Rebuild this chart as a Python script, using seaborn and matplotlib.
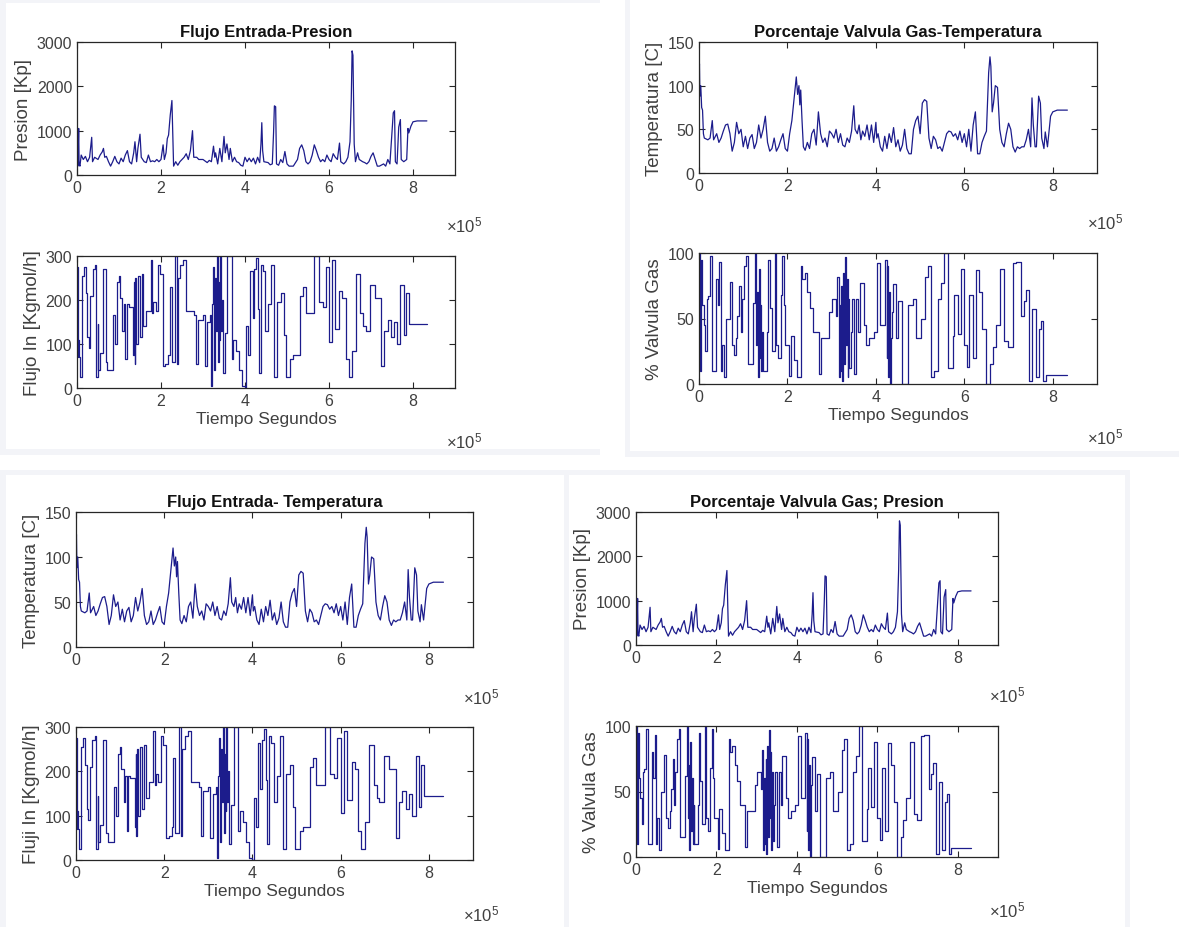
import numpy as np
import pandas as pd
import seaborn as sns
import matplotlib.pyplot as plt
from matplotlib.patches import Rectangle

# tiempo en unidades de 1e5 s

# presion [Kp]
t_pres = [0.00, 0.005, 0.01, 0.02, 0.04, 0.05, 0.07, 0.10, 0.15, 0.20, 0.25, 0.30, 0.35, 0.37, 0.42,
          0.50, 0.55, 0.60, 0.63, 0.66, 0.70, 0.75, 0.80, 0.85, 0.90, 0.95, 1.00, 1.05, 1.10, 1.15,
          1.20, 1.25, 1.30, 1.35, 1.38, 1.42, 1.45, 1.50, 1.53, 1.60, 1.65, 1.70, 1.75, 1.80, 1.85,
          1.90, 1.95, 2.00, 2.05, 2.08, 2.12, 2.15, 2.18, 2.22, 2.26, 2.28, 2.30, 2.35, 2.40, 2.45,
          2.50, 2.55, 2.60, 2.65, 2.70, 2.75, 2.78, 2.85, 2.90, 3.00, 3.10, 3.15, 3.20, 3.25, 3.28,
          3.30, 3.35, 3.40, 3.45, 3.50, 3.53, 3.57, 3.62, 3.65, 3.70, 3.75, 3.80, 3.85, 3.90, 3.95,
          4.00, 4.05, 4.10, 4.15, 4.20, 4.25, 4.30, 4.35, 4.38, 4.40, 4.42, 4.45, 4.55, 4.60, 4.65,
          4.68, 4.70, 4.73, 4.75, 4.80, 4.85, 4.90, 4.95, 5.00, 5.05, 5.15, 5.25, 5.30, 5.35, 5.40,
          5.45, 5.50, 5.55, 5.60, 5.65, 5.70, 5.75, 5.80, 5.85, 5.90, 5.95, 6.00, 6.05, 6.10, 6.15,
          6.20, 6.25, 6.28, 6.35, 6.40, 6.45, 6.50, 6.53, 6.55, 6.57, 6.60, 6.63, 6.68, 6.72, 6.80,
          6.85, 6.90, 6.95, 7.00, 7.05, 7.10, 7.15, 7.20, 7.30, 7.35, 7.40, 7.45, 7.50, 7.53, 7.56,
          7.58, 7.62, 7.66, 7.70, 7.72, 7.78, 7.85, 7.88, 7.90, 7.95, 8.00, 8.10, 8.33]
presion = [300, 2000, 400, 200, 1050, 250, 200, 450, 350, 420, 300, 400, 850, 300, 400,
           350, 450, 520, 600, 400, 420, 300, 200, 300, 420, 300, 250, 380, 300, 450,
           550, 300, 250, 500, 750, 300, 600, 920, 400, 300, 280, 450, 300, 320, 300,
           350, 300, 350, 680, 350, 500, 820, 900, 1350, 1680, 900, 200, 300, 220, 300,
           350, 400, 480, 350, 550, 1000, 400, 400, 350, 350, 280, 330, 300, 650, 400,
           500, 250, 600, 300, 870, 500, 700, 350, 600, 300, 400, 300, 280, 220, 200,
           400, 300, 380, 300, 380, 250, 400, 280, 700, 1180, 550, 300, 280, 230, 250,
           950, 1560, 1540, 250, 220, 350, 280, 530, 250, 200, 200, 350, 600, 680, 550,
           300, 250, 300, 450, 680, 550, 400, 300, 350, 300, 450, 350, 300, 480, 400,
           350, 720, 300, 250, 300, 400, 750, 1700, 2800, 2700, 700, 300, 500, 350, 300,
           280, 250, 300, 420, 500, 350, 200, 200, 250, 200, 350, 250, 950, 1400, 1450,
           300, 250, 1080, 1250, 350, 300, 350, 1050, 950, 1100, 1200, 1220, 1220]

# temperatura [C]
t_temp = [0.00, 0.01, 0.02, 0.04, 0.06, 0.08, 0.10, 0.12, 0.20, 0.25, 0.30, 0.33, 0.40, 0.45, 0.50,
          0.55, 0.60, 0.65, 0.70, 0.75, 0.80, 0.85, 0.90, 0.95, 1.00, 1.05, 1.10, 1.15, 1.20, 1.25,
          1.30, 1.35, 1.40, 1.45, 1.50, 1.55, 1.60, 1.65, 1.70, 1.75, 1.80, 1.85, 1.90, 1.95, 2.00,
          2.05, 2.10, 2.15, 2.20, 2.23, 2.26, 2.28, 2.30, 2.33, 2.36, 2.40, 2.45, 2.50, 2.55, 2.60,
          2.65, 2.70, 2.75, 2.80, 2.85, 2.90, 2.95, 3.00, 3.05, 3.10, 3.15, 3.20, 3.25, 3.30, 3.35,
          3.40, 3.45, 3.50, 3.53, 3.58, 3.62, 3.66, 3.70, 3.75, 3.80, 3.85, 3.90, 3.95, 4.00, 4.02,
          4.05, 4.10, 4.15, 4.20, 4.25, 4.30, 4.35, 4.40, 4.45, 4.50, 4.55, 4.60, 4.65, 4.70, 4.75,
          4.80, 4.85, 4.90, 4.95, 5.00, 5.05, 5.10, 5.15, 5.20, 5.25, 5.30, 5.35, 5.40, 5.45, 5.50,
          5.55, 5.60, 5.65, 5.70, 5.75, 5.80, 5.85, 5.90, 5.95, 6.00, 6.05, 6.10, 6.15, 6.20, 6.25,
          6.28, 6.30, 6.35, 6.40, 6.45, 6.50, 6.55, 6.58, 6.60, 6.63, 6.66, 6.70, 6.75, 6.80, 6.85,
          6.90, 6.95, 7.00, 7.05, 7.10, 7.15, 7.20, 7.25, 7.30, 7.35, 7.40, 7.45, 7.50, 7.53, 7.56,
          7.60, 7.63, 7.68, 7.72, 7.75, 7.80, 7.83, 7.88, 7.92, 7.95, 8.00, 8.10, 8.33]
temperatura = [105, 125, 88, 100, 75, 72, 45, 40, 38, 40, 60, 38, 45, 35, 40,
               48, 55, 56, 45, 25, 35, 58, 45, 50, 30, 42, 28, 40, 44, 28,
               35, 55, 40, 50, 65, 35, 25, 28, 40, 25, 30, 38, 45, 28, 25,
               45, 60, 85, 110, 90, 100, 78, 95, 60, 30, 26, 35, 28, 45, 50,
               32, 70, 45, 35, 40, 30, 48, 45, 40, 50, 35, 45, 32, 30, 40,
               35, 48, 77, 50, 45, 55, 38, 48, 42, 55, 38, 55, 35, 58, 40,
               45, 30, 25, 42, 28, 45, 35, 52, 30, 38, 25, 32, 50, 28, 22,
               22, 50, 60, 65, 45, 80, 84, 82, 40, 28, 42, 38, 28, 30, 25,
               35, 45, 48, 47, 42, 45, 38, 48, 35, 45, 30, 50, 25, 55, 70,
               40, 22, 22, 35, 42, 48, 115, 133, 122, 70, 80, 100, 98, 50, 35,
               30, 45, 57, 50, 30, 24, 30, 28, 30, 30, 38, 50, 30, 86, 55,
               30, 30, 88, 80, 40, 28, 47, 30, 50, 65, 70, 72, 72]

# flujo de entrada [Kgmol/h] (escalones)
t_flujo = [0.00, 0.02, 0.03, 0.05, 0.07, 0.12, 0.17, 0.21, 0.24, 0.28, 0.32, 0.37, 0.42, 0.46, 0.49,
           0.51, 0.55, 0.62, 0.69, 0.72, 0.79, 0.86, 0.90, 0.95, 1.00, 1.03, 1.08, 1.12, 1.15, 1.18,
           1.23, 1.33, 1.35, 1.37, 1.39, 1.41, 1.45, 1.50, 1.54, 1.58, 1.65, 1.75, 1.78, 1.82, 1.87,
           1.93, 1.98, 2.04, 2.10, 2.17, 2.21, 2.25, 2.34, 2.37, 2.41, 2.46, 2.53, 2.60, 2.79, 2.84,
           2.88, 3.00, 3.04, 3.10, 3.17, 3.19, 3.22, 3.25, 3.27, 3.29, 3.31, 3.33, 3.35, 3.37, 3.39,
           3.41, 3.43, 3.45, 3.47, 3.52, 3.58, 3.68, 3.72, 3.78, 3.85, 3.93, 4.00, 4.03, 4.07, 4.13,
           4.18, 4.22, 4.27, 4.30, 4.33, 4.37, 4.43, 4.48, 4.55, 4.62, 4.70, 4.75, 4.85, 4.93, 4.97,
           5.07, 5.15, 5.30, 5.38, 5.45, 5.65, 5.75, 5.85, 5.92, 6.00, 6.08, 6.15, 6.25, 6.32, 6.40,
           6.47, 6.55, 6.65, 6.75, 6.82, 6.88, 6.98, 7.10, 7.25, 7.32, 7.40, 7.48, 7.55, 7.62, 7.70,
           7.78, 7.83, 7.90, 8.33]
flujo = [275, 70, 110, 70, 25, 255, 275, 215, 115, 90, 210, 270, 280, 25, 145,
         40, 80, 270, 60, 40, 40, 165, 100, 240, 255, 205, 130, 190, 65, 190,
         185, 75, 240, 55, 250, 100, 255, 115, 260, 140, 175, 290, 170, 195, 175,
         280, 260, 50, 55, 75, 230, 60, 300, 55, 250, 280, 290, 175, 165, 55,
         155, 165, 50, 150, 165, 5, 190, 275, 40, 250, 130, 300, 60, 240, 110,
         300, 130, 200, 35, 125, 300, 65, 110, 85, 40, 5, 0, 140, 75, 265,
         160, 270, 295, 180, 35, 280, 265, 130, 190, 280, 25, 195, 215, 120, 25,
         65, 75, 210, 230, 170, 300, 195, 185, 275, 105, 290, 135, 220, 205, 65,
         25, 85, 260, 170, 140, 130, 235, 205, 50, 130, 155, 115, 150, 100, 235,
         120, 215, 145, 145]

# porcentaje valvula gas (escalones)
t_valv = [0.00, 0.02, 0.03, 0.05, 0.07, 0.09, 0.11, 0.14, 0.17, 0.20, 0.25, 0.29, 0.32, 0.39, 0.42,
          0.46, 0.49, 0.53, 0.56, 0.62, 0.69, 0.74, 0.80, 0.84, 0.87, 0.91, 0.95, 0.98, 1.02, 1.06,
          1.10, 1.15, 1.22, 1.26, 1.29, 1.31, 1.33, 1.35, 1.37, 1.39, 1.41, 1.43, 1.45, 1.53, 1.56,
          1.60, 1.64, 1.71, 1.74, 1.78, 1.85, 1.88, 1.92, 1.95, 2.03, 2.07, 2.15, 2.22, 2.30, 2.34,
          2.39, 2.45, 2.50, 2.58, 2.72, 2.76, 2.85, 2.95, 3.00, 3.10, 3.13, 3.16, 3.18, 3.20, 3.22,
          3.24, 3.26, 3.28, 3.30, 3.32, 3.34, 3.36, 3.38, 3.40, 3.43, 3.46, 3.50, 3.55, 3.60, 3.64,
          3.72, 3.78, 3.85, 3.96, 4.03, 4.10, 4.20, 4.24, 4.26, 4.28, 4.30, 4.32, 4.34, 4.36, 4.38,
          4.45, 4.50, 4.58, 4.63, 4.72, 4.83, 4.90, 5.02, 5.12, 5.17, 5.25, 5.32, 5.40, 5.47, 5.55,
          5.62, 5.74, 5.77, 5.85, 5.92, 6.00, 6.07, 6.11, 6.19, 6.26, 6.34, 6.41, 6.49, 6.58, 6.64,
          6.71, 6.81, 6.90, 6.98, 7.09, 7.17, 7.28, 7.34, 7.39, 7.47, 7.53, 7.62, 7.68, 7.73, 7.78,
          7.84, 8.33]
valvula = [100, 65, 10, 95, 60, 60, 45, 25, 65, 67, 98, 10, 10, 80, 60,
           93, 10, 30, 5, 50, 78, 30, 22, 35, 52, 75, 40, 65, 90, 98,
           15, 15, 62, 100, 30, 70, 5, 88, 20, 60, 10, 40, 10, 40, 95,
           58, 25, 100, 30, 20, 68, 98, 60, 30, 6, 37, 18, 5, 90, 80,
           85, 70, 58, 40, 8, 35, 35, 55, 65, 52, 82, 5, 60, 10, 75,
           2, 85, 15, 97, 30, 80, 5, 65, 12, 40, 65, 8, 65, 40, 77,
           45, 30, 35, 40, 92, 45, 95, 20, 90, 5, 70, 0, 35, 55, 76,
           35, 63, 0, 0, 60, 65, 35, 50, 82, 90, 5, 10, 65, 77, 100,
           12, 37, 68, 38, 88, 30, 13, 68, 20, 87, 70, 42, 0, 15, 28,
           45, 88, 33, 28, 92, 93, 52, 63, 72, 2, 57, 5, 42, 48, 2,
           7, 7]

df_pres = pd.DataFrame({'t': t_pres, 'v': presion})
df_temp = pd.DataFrame({'t': t_temp, 'v': temperatura})
df_flujo = pd.DataFrame({'t': t_flujo, 'v': flujo})
df_valv = pd.DataFrame({'t': t_valv, 'v': valvula})

sns.set_style('ticks')
plt.rcParams['font.family'] = ['Liberation Sans', 'DejaVu Sans']
plt.rcParams['mathtext.fontset'] = 'custom'
plt.rcParams['mathtext.rm'] = 'Liberation Sans'
plt.rcParams['mathtext.it'] = 'Liberation Sans'

LINE = '#1c1c8c'
GRAY = '#404040'
FRAME = '#f3f4f8'

fig = plt.figure(figsize=(11.79, 9.28), dpi=100)
fig.patch.set_facecolor('white')
W, H = 1179, 928


def band(x0, y0, x1, y1):
    # franja gris clara de las ventanas de la captura
    fig.add_artist(Rectangle((x0 / W, 1 - y1 / H), (x1 - x0) / W, (y1 - y0) / H,
                             transform=fig.transFigure, color=FRAME, lw=0, zorder=0))


band(0, 0, 6, 456)
band(0, 450, 600, 456)
band(0, 0, 600, 4)
band(625, 0, 630, 458)
band(625, 452, 1179, 458)
band(0, 471, 565, 476)
band(0, 471, 6, 928)
band(564, 471, 569, 928)
band(569, 471, 1130, 476)
band(1125, 471, 1130, 928)


def make_ax(x0, x1, y0, y1):
    return fig.add_axes([x0 / W, 1 - y1 / H, (x1 - x0) / W, (y1 - y0) / H])


def draw(ax, df, ylim, yticks, ylabel, steps=False, title=None, xlabel=None):
    kw = dict(drawstyle='steps-post') if steps else {}
    sns.lineplot(data=df, x='t', y='v', ax=ax, color=LINE, linewidth=0.9,
                 estimator=None, sort=False, **kw)
    ax.set_xlim(0, 9)
    ax.set_ylim(*ylim)
    ax.set_xticks([0, 2, 4, 6, 8])
    ax.set_yticks(yticks)
    ax.tick_params(direction='in', top=True, right=True, labelsize=11.5,
                   colors='#262626', labelcolor=GRAY, length=4, width=0.8)
    for s in ax.spines.values():
        s.set_color('#262626')
        s.set_linewidth(0.9)
    ax.set_ylabel(ylabel, fontsize=13.5, color=GRAY, labelpad=3)
    if xlabel:
        ax.set_xlabel(xlabel, fontsize=12.5, color=GRAY, labelpad=2)
    else:
        ax.set_xlabel('')
    if title:
        ax.set_title(title, fontsize=12, fontweight='bold', color='#111111', pad=4)
    ax.text(0.975, -0.40 if xlabel else -0.37, r'$\times 10^{5}$', transform=ax.transAxes,
            ha='left', va='center', fontsize=12, color=GRAY)


# figura 1: Flujo Entrada-Presion
draw(make_ax(77, 455, 43, 176), df_pres, (0, 3000), [0, 1000, 2000, 3000], 'Presion [Kp]',
     title='Flujo Entrada-Presion')
draw(make_ax(77, 455, 257, 389), df_flujo, (0, 300), [0, 100, 200, 300], 'Flujo In [Kgmol/h]',
     steps=True, xlabel='Tiempo Segundos')

# figura 2: Porcentaje Valvula Gas-Temperatura
draw(make_ax(699, 1097, 43, 174), df_temp, (0, 150), [0, 50, 100, 150], 'Temperatura [C]',
     title='Porcentaje Valvula Gas-Temperatura')
draw(make_ax(699, 1097, 254, 385), df_valv, (0, 100), [0, 50, 100], '% Valvula Gas',
     steps=True, xlabel='Tiempo Segundos')

# figura 3: Flujo Entrada- Temperatura
draw(make_ax(76, 473, 513, 648), df_temp, (0, 150), [0, 50, 100, 150], 'Temperatura [C]',
     title='Flujo Entrada- Temperatura')
draw(make_ax(76, 473, 728, 861), df_flujo, (0, 300), [0, 100, 200, 300], 'Fluji In [Kgmol/h]',
     steps=True, xlabel='Tiempo Segundos')

# figura 4: Porcentaje Valvula Gas; Presion
draw(make_ax(636, 998, 513, 646), df_pres, (0, 3000), [0, 1000, 2000, 3000], 'Presion [Kp]',
     title='Porcentaje Valvula Gas; Presion')
draw(make_ax(636, 998, 727, 858), df_valv, (0, 100), [0, 50, 100], '% Valvula Gas',
     steps=True, xlabel='Tiempo Segundos')

fig.savefig('out.png', dpi=100, facecolor='white')
